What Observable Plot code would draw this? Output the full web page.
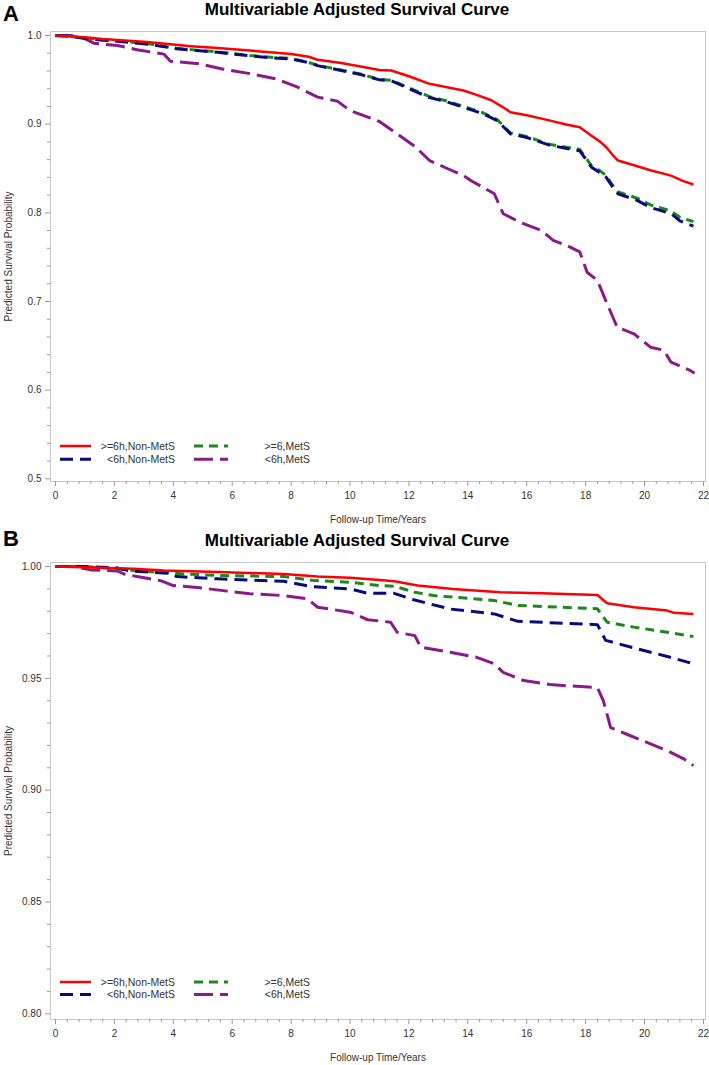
<!DOCTYPE html>
<html>
<head>
<meta charset="utf-8">
<script src="https://cdn.jsdelivr.net/npm/d3@7"></script>
<script src="https://cdn.jsdelivr.net/npm/@observablehq/plot@0.6"></script>
<style>
  html, body { margin: 0; padding: 0; background: #fff; overflow: hidden; }
  #root { position: relative; width: 709px; height: 1065px; background: #fff; font-family: "Liberation Sans", Arial, sans-serif; }
  #root > * { position: absolute; left: 0; }
</style>
</head>
<body>
<div id="root"></div>
<script>
// ---------------- DATA ----------------
const seriesNames = [">=6h,Non-MetS", ">=6,MetS", "<6h,Non-MetS", "<6h,MetS"];
const titleText = "Multivariable Adjusted Survival Curve";
const xLabel = "Follow-up Time/Years";
const yLabel = "Predicted Survival Probability";
const xMajorTicks = [0, 2, 4, 6, 8, 10, 12, 14, 16, 18, 20, 22];
const yTicksA = [0.5, 0.6, 0.7, 0.8, 0.9, 1.0];
const yTicksB = [0.80, 0.85, 0.90, 0.95, 1.00];

// Panel A
const aRedT = [0, 0.5, 1.0, 1.6, 2.1, 3.0, 3.9, 4.6, 5.5, 6.6, 7.3, 8.0, 8.6, 8.9, 9.7, 10.36, 11.0, 11.4, 12.0, 12.7, 13.85, 14.3, 14.8, 15.2, 15.45, 16.0, 16.8, 17.3, 17.8, 18.2, 18.5, 18.7, 18.9, 19.1, 19.5, 20.2, 20.9, 21.3, 21.66];
const aRedS = [1.0, 0.999, 0.998, 0.996, 0.995, 0.993, 0.990, 0.988, 0.986, 0.983, 0.981, 0.979, 0.976, 0.9726, 0.969, 0.965, 0.961, 0.9605, 0.954, 0.9455, 0.938, 0.933, 0.927, 0.919, 0.9135, 0.910, 0.904, 0.900, 0.8966, 0.887, 0.880, 0.874, 0.866, 0.859, 0.855, 0.848, 0.842, 0.836, 0.832];

const aGreenT = [0, 0.5, 0.96, 1.5, 2.1, 3.2, 4.1, 4.8, 5.5, 6.6, 7.3, 8.0, 8.5, 8.9, 9.7, 10.36, 11.0, 11.4, 12.0, 12.7, 13.3, 13.85, 14.5, 15.0, 15.45, 16.0, 16.8, 17.8, 18.2, 18.5, 18.7, 18.9, 19.1, 19.75, 20.2, 20.5, 20.9, 21.2, 21.66];
const aGreenS = [1.0, 0.999, 0.997, 0.9955, 0.994, 0.9905, 0.9855, 0.9835, 0.9815, 0.9775, 0.9755, 0.974, 0.9705, 0.9665, 0.961, 0.9565, 0.9505, 0.9495, 0.941, 0.931, 0.926, 0.920, 0.913, 0.905, 0.890, 0.886, 0.877, 0.8715, 0.853, 0.847, 0.842, 0.832, 0.8235, 0.8165, 0.809, 0.806, 0.802, 0.795, 0.790];

const aBlueT = [0, 0.5, 0.96, 1.5, 2.1, 3.2, 4.1, 4.8, 5.5, 6.6, 7.3, 8.0, 8.5, 8.9, 9.7, 10.36, 11.0, 11.4, 12.0, 12.7, 13.3, 13.85, 14.5, 15.0, 15.45, 16.0, 16.8, 17.8, 18.2, 18.5, 18.7, 18.9, 19.1, 19.75, 20.2, 20.5, 20.9, 21.2, 21.66];
const aBlueS = [1.0, 0.999, 0.997, 0.995, 0.9935, 0.990, 0.985, 0.983, 0.981, 0.977, 0.975, 0.9735, 0.970, 0.966, 0.9605, 0.956, 0.950, 0.949, 0.940, 0.930, 0.925, 0.919, 0.912, 0.904, 0.889, 0.885, 0.876, 0.870, 0.8515, 0.845, 0.840, 0.830, 0.8215, 0.814, 0.806, 0.803, 0.799, 0.791, 0.785];

const aPurpleT = [0, 0.5, 0.96, 1.3, 2.1, 2.77, 3.68, 3.9, 4.9, 5.7, 6.6, 7.5, 8.2, 8.9, 9.57, 10.0, 11.0, 11.6, 12.2, 12.7, 13.3, 13.86, 14.1, 14.9, 15.2, 15.8, 16.5, 16.9, 17.37, 17.8, 18.05, 18.4, 18.73, 19.07, 19.64, 20.2, 20.66, 20.9, 21.56, 21.7];
const aPurpleS = [1.0, 1.0, 0.997, 0.9913, 0.9887, 0.984, 0.979, 0.971, 0.968, 0.962, 0.957, 0.951, 0.942, 0.9305, 0.926, 0.9154, 0.903, 0.889, 0.875, 0.859, 0.850, 0.842, 0.8365, 0.8215, 0.799, 0.789, 0.780, 0.769, 0.763, 0.756, 0.733, 0.7237, 0.6974, 0.671, 0.6636, 0.6485, 0.645, 0.6316, 0.622, 0.619];

// Panel B
const bRedT = [0, 1.5, 2.66, 3.68, 5.5, 7.75, 8.9, 10.0, 11.0, 11.5, 12.3, 13.5, 15.1, 16.5, 18.4, 18.73, 19.64, 20.77, 21.0, 21.66];
const bRedS = [1.0, 0.9995, 0.999, 0.9982, 0.9975, 0.9967, 0.9955, 0.995, 0.994, 0.9934, 0.9915, 0.990, 0.9885, 0.988, 0.9873, 0.9836, 0.9818, 0.9803, 0.9793, 0.9788];

const bGreenT = [0, 1.0, 2.1, 2.66, 4.36, 5.5, 7.75, 8.8, 10.0, 11.0, 11.5, 12.2, 12.85, 14.9, 15.7, 18.4, 18.73, 19.64, 20.77, 21.66];
const bGreenS = [1.0, 1.0, 0.999, 0.9982, 0.9967, 0.996, 0.9955, 0.9937, 0.993, 0.9915, 0.9912, 0.9885, 0.987, 0.9848, 0.9826, 0.9811, 0.9751, 0.9729, 0.9706, 0.9687];

const bBlueT = [0, 1.0, 2.1, 2.55, 3.8, 4.13, 5.5, 7.75, 8.66, 10.0, 10.6, 11.5, 12.2, 13.4, 14.9, 15.7, 18.4, 18.68, 19.64, 20.77, 21.66];
const bBlueS = [1.0, 1.0, 0.9994, 0.998, 0.997, 0.9955, 0.9945, 0.9934, 0.9911, 0.990, 0.988, 0.988, 0.985, 0.981, 0.9788, 0.9755, 0.974, 0.967, 0.9636, 0.9598, 0.9565];

const bPurpleT = [0, 0.6, 1.19, 2.1, 2.32, 2.77, 3.57, 4.0, 4.9, 5.83, 6.6, 7.75, 8.55, 8.9, 10.0, 10.6, 11.38, 11.6, 12.2, 12.4, 13.4, 14.3, 14.9, 15.2, 15.9, 16.8, 18.4, 18.6, 18.85, 19.4, 20.2, 20.77, 21.33, 21.66];
const bPurpleS = [1.0, 1.0, 0.9985, 0.998, 0.9967, 0.9955, 0.9937, 0.9915, 0.9905, 0.989, 0.9878, 0.987, 0.9856, 0.9818, 0.9796, 0.9762, 0.9751, 0.9706, 0.9691, 0.9639, 0.9617, 0.9594, 0.9565, 0.9527, 0.949, 0.9472, 0.9458, 0.940, 0.928, 0.925, 0.9207, 0.9177, 0.914, 0.911];

// ---------------- STYLE ----------------
const FONT = '"Liberation Sans", Arial, Helvetica, sans-serif';
const styles = [
  {name: seriesNames[0], color: "#ff0000", dash: null, width: 2.5},
  {name: seriesNames[1], color: "#1a8a1a", dash: "9,6", width: 3},
  {name: seriesNames[2], color: "#0a0a80", dash: "13,7", width: 3},
  {name: seriesNames[3], color: "#8a1a8a", dash: "19,7", width: 3}
];

function table(ts, ss) { return ts.map((t, i) => ({t, s: ss[i]})); }

const panelA = [table(aRedT, aRedS), table(aGreenT, aGreenS), table(aBlueT, aBlueS), table(aPurpleT, aPurpleS)];
const panelB = [table(bRedT, bRedS), table(bGreenT, bGreenS), table(bBlueT, bBlueS), table(bPurpleT, bPurpleS)];

const root = document.getElementById("root");

function header(top, h, letter, letterBaseline, titleBaseline) {
  const svg = d3.create("svg").attr("width", 709).attr("height", h)
    .style("top", top + "px").style("font-family", FONT);
  svg.append("text").attr("x", 3).attr("y", letterBaseline).attr("font-size", 22)
    .attr("font-weight", "bold").attr("fill", "#000").text(letter);
  svg.append("text").attr("x", 357).attr("y", titleBaseline).attr("font-size", 17)
    .attr("font-weight", "bold").attr("text-anchor", "middle").attr("fill", "#000").text(titleText);
  root.appendChild(svg.node());
}

function minorTicks(lo, hi, step, majors) {
  const n = Math.round((hi - lo) / step);
  const out = [];
  for (let i = 0; i <= n; i++) {
    const v = +(lo + i * step).toFixed(4);
    if (!majors.some(m => Math.abs(m - v) < 1e-6)) out.push(v);
  }
  return out;
}

function panel(top, height, mt, mb, yDomain, yTicks, yMinorStep, yFmt, data) {
  const yMinor = minorTicks(yTicks[0], yTicks[yTicks.length - 1], yMinorStep, yTicks);
  const xMinor = minorTicks(0, 22, 0.4, xMajorTicks);
  const marks = [
    Plot.frame({stroke: "#c8c8c8"}),
    Plot.axisX(xMajorTicks, {tickSize: 5, tickPadding: 5, stroke: "#999", fill: "#333", tickFormat: d => String(d),
      label: xLabel, labelAnchor: "center", labelArrow: "none", labelOffset: 41}),
    Plot.axisX(xMinor, {tickSize: 3, stroke: "#999", tickFormat: () => "", label: null}),
    Plot.axisY(yTicks, {tickSize: 5, tickPadding: 4, stroke: "#999", fill: "#333", tickFormat: d3.format(yFmt),
      label: yLabel, labelAnchor: "center", labelArrow: "none", labelOffset: 46}),
    Plot.axisY(yMinor, {tickSize: 3, stroke: "#999", tickFormat: () => "", label: null})
  ];
  const order = [3, 1, 2, 0];
  for (const k of order) {
    const st = styles[k];
    marks.push(Plot.line(data[k], {x: "t", y: "s", stroke: st.color, strokeWidth: st.width,
      strokeDasharray: st.dash || undefined, strokeLinecap: "butt", strokeLinejoin: "round", curve: "linear"}));
  }
  const chart = Plot.plot({
    width: 709, height,
    marginTop: mt, marginBottom: mb, marginLeft: 50, marginRight: 4,
    x: {domain: [-0.17, 22.07]},
    y: {domain: yDomain},
    style: {fontFamily: FONT, fontSize: "10px", color: "#333", background: "transparent", overflow: "visible"},
    marks
  });
  chart.style.top = top + "px";
  root.appendChild(chart);
}

function legend(top, rowGap) {
  const svg = d3.create("svg").attr("width", 330).attr("height", 34)
    .style("top", top + "px").style("font-family", FONT);
  const items = [
    {k: 0, col: 0, row: 0}, {k: 1, col: 1, row: 0},
    {k: 2, col: 0, row: 1}, {k: 3, col: 1, row: 1}
  ];
  const cols = [{x0: 60, x1: 91, tx: 175}, {x0: 194, x1: 228, tx: 310}];
  for (const it of items) {
    const st = styles[it.k], c = cols[it.col], y = 8 + it.row * rowGap;
    svg.append("line").attr("x1", c.x0).attr("x2", c.x1).attr("y1", y).attr("y2", y)
      .attr("stroke", st.color).attr("stroke-width", st.width)
      .attr("stroke-dasharray", st.dash || null);
    svg.append("text").attr("x", c.tx).attr("y", y + 3.7).attr("text-anchor", "end")
      .attr("font-size", 10.5).attr("fill", "#333").text(st.name);
  }
  root.appendChild(svg.node());
}

header(0, 26, "A", 20.5, 15);
panel(26, 500, 5, 45, [0.497, 1.0045], yTicksA, 0.02, ".1f", panelA);
legend(445.7 - 8, 13.3);

header(526, 26, "B", 19.7, 19.7);
panel(552, 513, 10, 46, [0.79745, 1.0018], yTicksB, 0.01, ".2f", panelB);
legend(981.7 - 8, 12.5);
</script>
</body>
</html>
